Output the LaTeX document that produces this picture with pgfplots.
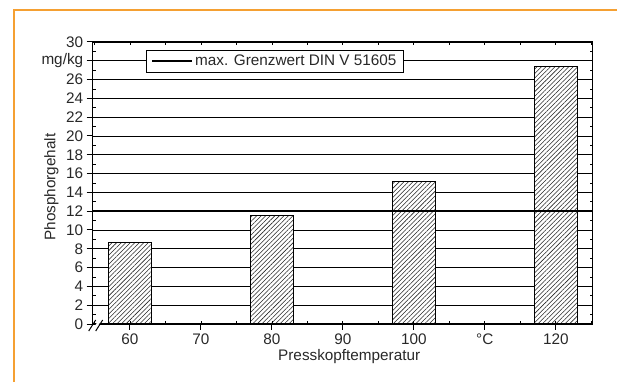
\documentclass[border=0pt]{standalone}
\usepackage{fontspec}
\setmainfont{Liberation Sans}
\usepackage{pgfplots}
\pgfplotsset{compat=1.18}
\usetikzlibrary{patterns.meta}
\definecolor{frameorange}{RGB}{245,160,50}
\definecolor{txt}{RGB}{40,40,40}
\begin{document}
\begin{tikzpicture}[font=\fontsize{15.3}{18}\selectfont]
\begin{pgfinterruptboundingbox}
\begin{axis}[
  name=ax,
  width=500pt, height=282pt, scale only axis,
  xmin=54.75, xmax=125.2, ymin=0, ymax=30,
  xtick={60,70,80,90,100,110,120},
  xticklabels={60,70,80,90,100,{°C},120},
  ytick={0,2,...,30},
  yticklabels={0,2,4,6,8,10,12,14,16,18,20,22,24,26,{mg/kg},30},
  tick align=outside, tick pos=left,
  major tick length=6pt,
  tick style={black, line width=1pt},
  axis line style={black, line width=1.2pt},
  ymajorgrids, grid style={black, line width=0.8pt},
  /pgf/number format/assume math mode=true,
  ticklabel style={text=txt},
  xlabel={Presskopftemperatur},
  ylabel={Phosphorgehalt},
  xlabel style={at={(rel axis cs:0.513,0)}, anchor=center, yshift=-32.5pt, text=txt},
  ylabel style={at={(rel axis cs:0,0.486)}, anchor=center, yshift=41.2pt, text=txt},
  legend style={at={(axis cs:62.2,29.2)}, anchor=north west, draw=black, fill=white,
    line width=0.7pt, inner xsep=5pt, inner ysep=3pt, font=\fontsize{15.3}{18}\selectfont, text=txt},
  legend image code/.code={\path (0pt,0pt) -- (40pt,0pt);\draw[line width=2.2pt,black] (0pt,0pt) -- (33pt,0pt);},
  clip=false,
]
\addplot[ybar, bar width=6, draw=black, line width=0.9pt, fill=white,
  postaction={pattern={Lines[angle=45,distance=3.2pt,line width=0.55pt]}, pattern color=black!85},
  forget plot]
  coordinates {(60,8.7) (80,11.5) (100,15.2) (120,27.4)};
\addplot[black, line width=2.2pt] coordinates {(54.75,12) (125.2,12)};
\addlegendentry{max. Grenzwert DIN V 51605}
\end{axis}
\begin{axis}[
  at={(ax.south west)}, anchor=south west,
  width=500pt, height=282pt, scale only axis,
  xmin=54.75, xmax=125.2, ymin=0, ymax=30,
  xtick={55,60,...,125}, ytick={0,1,...,30},
  xticklabels={}, yticklabels={},
  tick align=inside, tick pos=both,
  major tick length=3pt,
  tick style={black, line width=0.8pt},
  axis line style={black, line width=1.2pt},
]
\end{axis}
\end{pgfinterruptboundingbox}
\begin{scope}[shift={(ax.south west)}]
\path[use as bounding box] (-92.7pt,-58pt) rectangle (524.3pt,324pt);
\draw[frameorange, line width=2.6pt] (-78.7pt,-58pt) -- (-78.7pt,314pt) -- (524.3pt,314pt);
\fill[white] (-1pt,-7pt) -- (6pt,4pt) -- (9pt,4pt) -- (2pt,-7pt) -- cycle;
\draw[black, line width=1pt] (-4pt,-7pt) -- (3pt,4pt) (3pt,-7pt) -- (10pt,4pt);
\end{scope}
\end{tikzpicture}
\end{document}
